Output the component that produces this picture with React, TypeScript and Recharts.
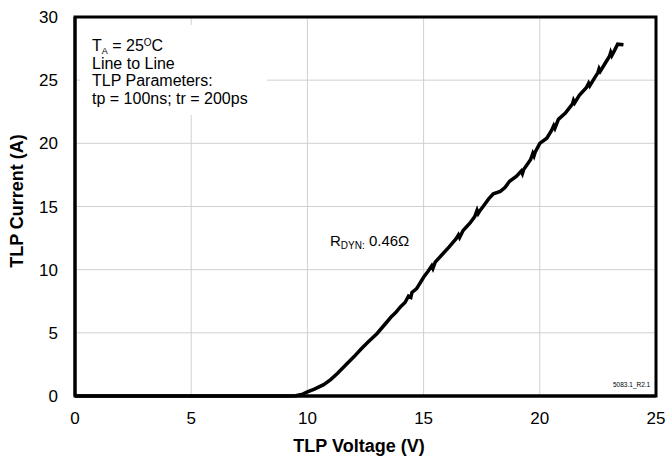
import { CartesianGrid, Line, LineChart, ReferenceArea, XAxis, YAxis } from 'recharts'

const voltage = [
  0, 2, 5, 8, 9.0, 9.5, 9.8, 10.0, 10.3, 10.7, 11.0, 11.3, 11.7, 12.0, 12.3, 12.6, 13.0, 13.3, 13.6, 13.8,
  14.0, 14.2, 14.35, 14.45, 14.5, 14.7, 15.0, 15.2, 15.35, 15.4, 15.5, 15.8, 16.1, 16.4, 16.5, 16.55, 16.7,
  17.0, 17.2, 17.3, 17.35, 17.4, 17.6, 17.8, 18.0, 18.3, 18.5, 18.7, 19.0, 19.2, 19.25, 19.3, 19.6, 19.7,
  19.75, 19.8, 20.0, 20.3, 20.5, 20.6, 20.65, 20.8, 21.1, 21.4, 21.45, 21.5, 21.7, 22.0, 22.1, 22.15, 22.3,
  22.5, 22.55, 22.6, 22.8, 23.0, 23.05, 23.1, 23.2, 23.35, 23.6,
]
const current = [
  0, 0, 0, 0, 0, 0.02, 0.15, 0.32, 0.55, 0.9, 1.3, 1.8, 2.55, 3.1, 3.7, 4.25, 4.95, 5.6, 6.25, 6.6,
  7.05, 7.4, 7.9, 7.8, 8.2, 8.5, 9.4, 9.9, 10.3, 10.1, 10.6, 11.2, 11.8, 12.45, 12.75, 12.55, 13.1,
  13.7, 14.2, 14.7, 14.45, 14.6, 15.1, 15.6, 16.0, 16.2, 16.5, 17.0, 17.4, 17.8, 17.6, 17.9, 18.7, 19.2,
  19.0, 19.3, 20.0, 20.4, 21.0, 21.4, 21.2, 21.9, 22.4, 23.1, 23.4, 23.2, 23.8, 24.4, 24.75, 24.55, 25.0,
  25.6, 25.9, 25.7, 26.3, 26.9, 27.2, 26.95, 27.3, 27.85, 27.8,
]
const xTicks = [0, 5, 10, 15, 20, 25]
const yTicks = [0, 5, 10, 15, 20, 25, 30]

const data = voltage.map((v, i) => ({ v, i: current[i] }))

const font = '"Liberation Sans", Arial, sans-serif'

export default function App() {
  return (
    <div style={{ position: 'absolute', left: 0, top: 0, width: 668, height: 457, background: '#fff', fontFamily: font }}>
      <LineChart width={668} height={457} data={data} margin={{ top: 17, right: 12, bottom: 0, left: 0 }}>
        <CartesianGrid stroke="#d0d0d0" strokeWidth={1} />
        <XAxis
          dataKey="v"
          type="number"
          domain={[0, 25]}
          ticks={xTicks}
          height={61}
          tickLine={false}
          tickMargin={10}
          axisLine={{ stroke: '#000', strokeWidth: 3 }}
          tick={{ fill: '#000', fontSize: 17, fontFamily: font }}
        />
        <YAxis
          type="number"
          domain={[0, 30]}
          ticks={yTicks}
          width={75}
          tickLine={false}
          tickMargin={11}
          axisLine={{ stroke: '#000', strokeWidth: 3 }}
          tick={{ fill: '#000', fontSize: 17, fontFamily: font }}
        />
        <ReferenceArea x1={0} x2={25} y1={0} y2={30} fill="none" stroke="#000" strokeWidth={3} ifOverflow="visible" />
        <Line
          dataKey="i"
          type="linear"
          stroke="#000"
          strokeWidth={3.5}
          dot={false}
          isAnimationActive={false}
        />
      </LineChart>

      <div style={{ position: 'absolute', left: 80, top: 25, width: 187, height: 90, background: '#fff' }} />
      <div style={{ position: 'absolute', left: 92, top: 37, fontSize: 16, lineHeight: '17.7px', color: '#000' }}>
        <div style={{ height: 17.7 }}>
          T<span style={{ fontSize: 9, position: 'relative', top: 3 }}>A</span> = 25
          <span style={{ fontSize: 10, position: 'relative', top: -5 }}>O</span>C
        </div>
        <div>Line to Line</div>
        <div>TLP Parameters:</div>
        <div>tp = 100ns; tr = 200ps</div>
      </div>

      <div style={{ position: 'absolute', left: 330, top: 232, fontSize: 15, lineHeight: '18px', color: '#000', whiteSpace: 'nowrap' }}>
        R<span style={{ fontSize: 10, position: 'relative', top: 3 }}>DYN:</span> 0.46Ω
      </div>

      <div style={{ position: 'absolute', left: 613, top: 381, fontSize: 6.5, color: '#000' }}>5083.1_R2.1</div>

      <div style={{ position: 'absolute', left: 0, width: 718, top: 436, textAlign: 'center', fontSize: 18, lineHeight: '20px', fontWeight: 'bold' }}>
        TLP Voltage (V)
      </div>
      <div
        style={{
          position: 'absolute',
          left: 17,
          top: 201,
          transform: 'translate(-50%, -50%) rotate(-90deg)',
          fontSize: 18,
          lineHeight: '20px',
          fontWeight: 'bold',
          whiteSpace: 'nowrap',
        }}
      >
        TLP Current (A)
      </div>
    </div>
  )
}
